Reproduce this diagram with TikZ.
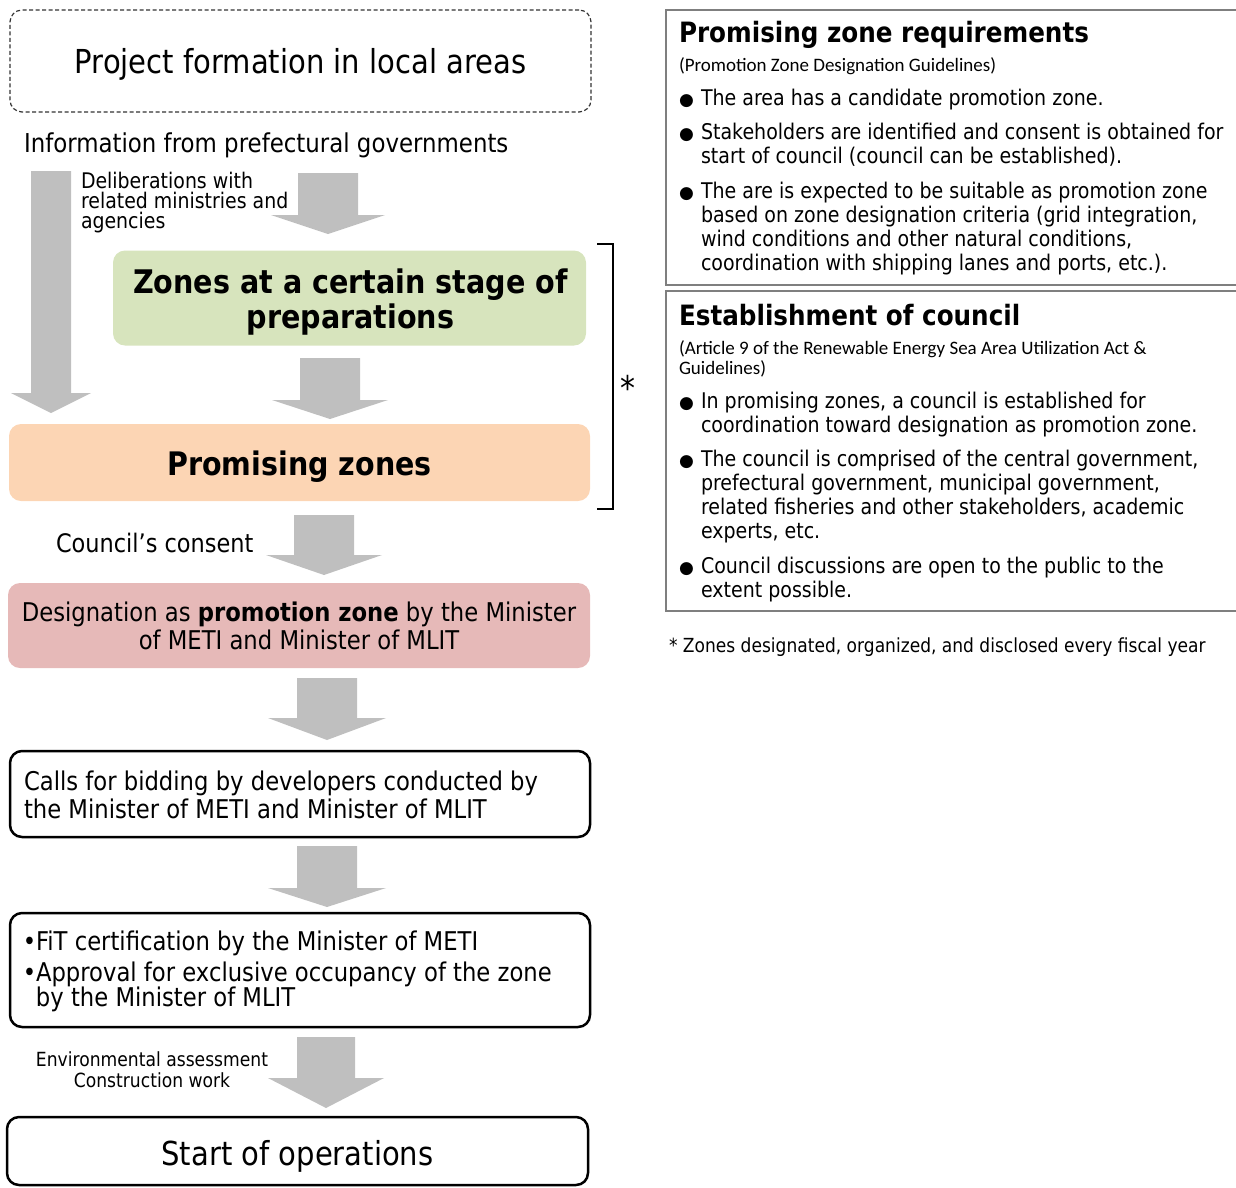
\documentclass[tikz,border=0pt]{standalone}
\usepackage{fontspec}
\setmainfont{DejaVu Sans}[FakeStretch=0.88]
\newfontfamily\subfont{Carlito}
\newfontfamily\symfont{DejaVu Sans}
\newcommand{\setfs}[2]{\fontsize{#1}{#2}\selectfont}
\definecolor{arrowgray}{HTML}{BFBFBF}
\definecolor{prepgreen}{HTML}{D7E4BD}
\definecolor{zonepeach}{HTML}{FCD5B4}
\definecolor{desigpink}{HTML}{E6B9B8}
\definecolor{panelgray}{HTML}{7F7F7F}
% block arrow: centre x, top, head base, tip, half shaft width, half head width
\newcommand{\blockarrow}[6]{%
  \fill[arrowgray] ({#1-#5},#2) -- ({#1+#5},#2) -- ({#1+#5},#3) -- ({#1+#6},#3)
    -- (#1,#4) -- ({#1-#6},#3) -- ({#1-#5},#3) -- cycle;}
\begin{document}
\begin{tikzpicture}[x=1pt,y=-1pt,
  every node/.style={inner sep=0pt, outer sep=0pt},
  dashbox/.style={draw=black!80, line width=1.2pt, dash pattern=on 4pt off 2.5pt, rounded corners=12pt},
  fillbox/.style={rounded corners=12pt},
  thickbox/.style={draw=black, line width=2.5pt, rounded corners=12pt, fill=white},
  boxtext/.style={align=center},
  panelbox/.style={draw=panelgray, line width=1.5pt, anchor=north west},
  label/.style={anchor=base west, align=left},
  bul/.style={anchor=base west, font=\symfont\setfs{17}{20}},
  btext/.style={anchor=base west, align=left, font=\setfs{21.6}{24}}]
\useasboundingbox (0,0) rectangle (1236,1187);

% ---------- left column: process flow ----------
\node[dashbox, minimum width=581, minimum height=102] (proj) at (300.5,61) {};
\node[boxtext, font=\setfs{33}{38}] (projtext) at (300.5,64) {Project formation in local areas};

\node[label, font=\setfs{26}{30}] (info) at (24,152) {Information from prefectural governments};

\blockarrow{51}{171}{393}{413}{20}{40}
\node[label, font=\setfs{21.5}{20}] (delib) at (81,228)
  {Deliberations with\\related ministries and\\agencies};
\blockarrow{328}{173}{215}{234}{30}{57}

\node[fillbox, fill=prepgreen, minimum width=473, minimum height=95] (prep) at (349.5,298) {};
\node[boxtext, font=\setfs{32.5}{35}\bfseries] (preptext) at (350.5,302)
  {Zones at a certain stage of\\preparations};

\blockarrow{330}{358}{400}{419}{30}{58}

\node[fillbox, fill=zonepeach, minimum width=581, minimum height=77] (prom) at (299.5,462.5) {};
\node[boxtext, font=\setfs{32.4}{36}\bfseries] (promtext) at (299.5,466.5) {Promising zones};

% bracket for the zones disclosed every fiscal year
\coordinate (brtop) at (597,244);
\coordinate (brbot) at (597,509);
\draw[line width=2pt] (brtop) -- ++(16,0) -- ++(0,265) -- (brbot);
\node[anchor=base, font=\setfs{34}{36}] (star) at (628,400) {*};

\blockarrow{324}{515}{555}{575}{30}{58}
\node[label, font=\setfs{25.5}{30}] (consent) at (56,552) {Council’s consent};

\node[fillbox, fill=desigpink, minimum width=582, minimum height=85] (desig) at (299,625.5) {};
\node[boxtext, font=\setfs{25.8}{28}] (desigtext) at (299,625.5)
  {Designation as \textbf{promotion zone} by the Minister\\of METI and Minister of MLIT};

\blockarrow{327}{678}{718}{740}{30}{59}

\node[thickbox, minimum width=580, minimum height=86] (bid) at (300,794) {};
\node[label, font=\setfs{25.8}{28}] (bidtext) at (24,818)
  {Calls for bidding by developers conducted by\\the Minister of METI and Minister of MLIT};

\blockarrow{327}{846}{888}{907}{30}{59}

\node[thickbox, minimum width=580, minimum height=114] (cert) at (300,970) {};
\node[label, font=\setfs{25.8}{25}] (certtext) at (23,1006)
  {\makebox[13pt][l]{•}FiT certification by the Minister of METI\\[6pt]
   \makebox[13pt][l]{•}Approval for exclusive occupancy of the zone\\
   \hspace*{13pt}by the Minister of MLIT};

\blockarrow{326}{1037}{1078}{1108}{29}{58}
\node[anchor=base, align=center, font=\setfs{19.5}{21}] (env) at (152,1087)
  {Environmental assessment\\Construction work};

\node[thickbox, minimum width=581, minimum height=68] (ops) at (297.5,1151) {};
\node[boxtext, font=\setfs{33}{38}] (opstext) at (297.5,1156) {Start of operations};

% ---------- right column: explanatory panels ----------
\node[panelbox, minimum width=590, minimum height=275] (req) at (666,10) {};
\node[anchor=base west, font=\setfs{28}{32}\bfseries] (reqtitle) at (679,42) {Promising zone requirements};
\node[anchor=base west, font=\subfont\setfs{19}{20}] (reqsub) at (679,71) {(Promotion Zone Designation Guidelines)};
\node[bul] (rb1) at (679,105) {●};
\node[btext] (rt1) at (701,105) {The area has a candidate promotion zone.};
\node[bul] (rb2) at (679,139) {●};
\node[btext] (rt2) at (701,163) {Stakeholders are identified and consent is obtained for\\start of council (council can be established).};
\node[bul] (rb3) at (679,198) {●};
\node[btext] (rt3) at (701,270) {The are is expected to be suitable as promotion zone\\based on zone designation criteria (grid integration,\\wind conditions and other natural conditions,\\coordination with shipping lanes and ports, etc.).};

\node[panelbox, minimum width=590, minimum height=320] (council) at (666,291) {};
\node[anchor=base west, font=\setfs{28}{32}\bfseries] (ctitle) at (679,325) {Establishment of council};
\node[anchor=base west, align=left, font=\subfont\setfs{19}{20}] (csub) at (679,374) {(Article 9 of the Renewable Energy Sea Area Utilization Act \&\\Guidelines)};
\node[bul] (cb1) at (679,408) {●};
\node[btext] (ct1) at (701,432) {In promising zones, a council is established for\\coordination toward designation as promotion zone.};
\node[bul] (cb2) at (679,466) {●};
\node[btext] (ct2) at (701,538) {The council is comprised of the central government,\\prefectural government, municipal government,\\related fisheries and other stakeholders, academic\\experts, etc.};
\node[bul] (cb3) at (679,573) {●};
\node[btext] (ct3) at (701,597) {Council discussions are open to the public to the\\extent possible.};

\node[anchor=base west, font=\setfs{19.4}{20}] (note) at (669,652) {* Zones designated, organized, and disclosed every fiscal year};
\end{tikzpicture}
\end{document}
